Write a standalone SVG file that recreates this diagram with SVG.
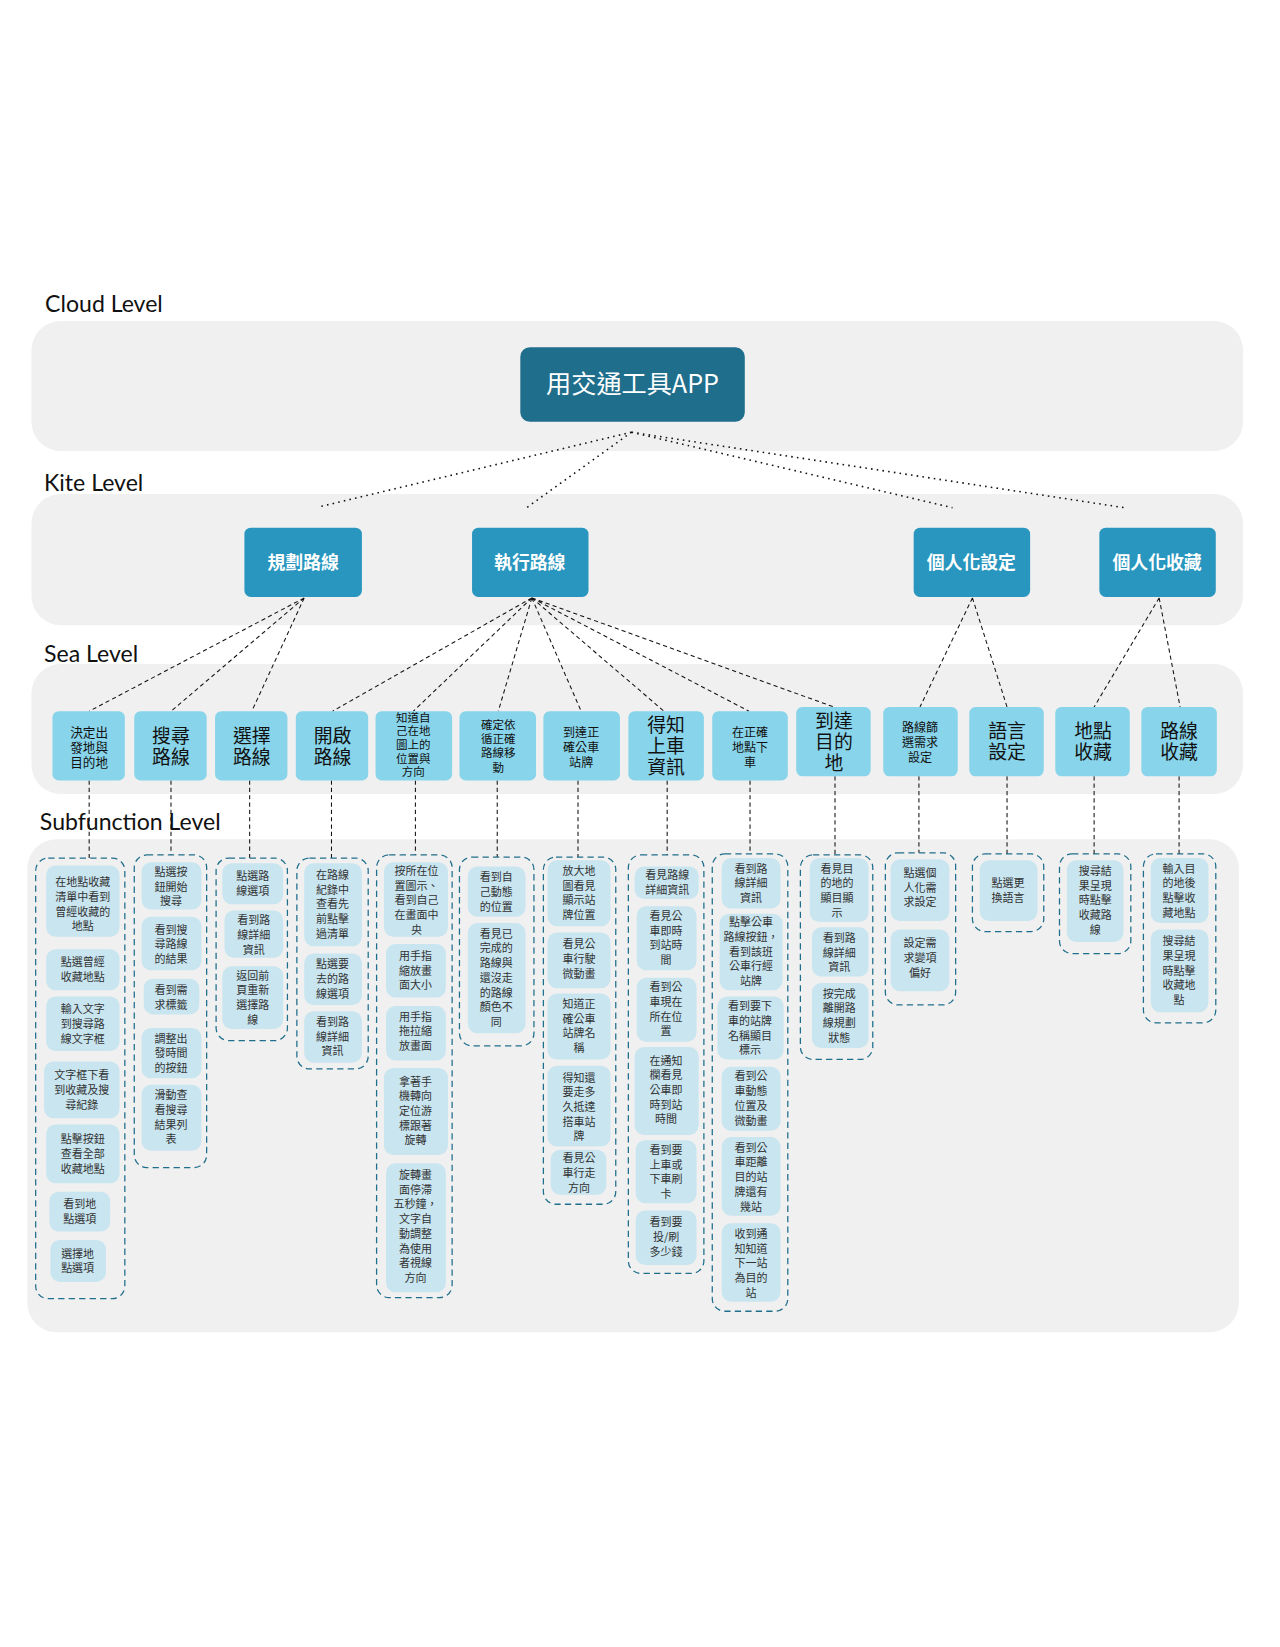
<svg xmlns="http://www.w3.org/2000/svg" width="1280" height="1647" viewBox="0 0 1280 1647">
<style>
.band{fill:#f0f0f0}
.lvl{font-family:Lato,"DejaVu Sans",sans-serif;font-size:22px;fill:#111}
.root{fill:#1f6e8c}
.kite{fill:#2896be}
.sea{fill:#88d4ea}
.grp{fill:none;stroke:#1f6e8c;stroke-width:1.2;stroke-dasharray:6 4}
.sub{fill:#c8e5f0}
.tw{font-family:"Noto Sans CJK TC","Liberation Sans",sans-serif;fill:#fff;text-anchor:middle;font-weight:bold}
.ts{font-family:"Noto Sans CJK TC","Liberation Sans",sans-serif;fill:#111;text-anchor:middle}
.t{font-family:"Noto Sans CJK TC","Liberation Sans",sans-serif;fill:#333;text-anchor:middle;font-size:10.5px}
.dot{stroke:#111;stroke-width:1.5;stroke-dasharray:1.5 4;fill:none}
.dash{stroke:#111;stroke-width:1;stroke-dasharray:4 3;fill:none}
</style>
<rect width="1280" height="1647" fill="#fff"/>
<g transform="scale(1.049)">
<text class="lvl" x="43" y="297">Cloud Level</text>
<rect class="band" x="30" y="306" width="1155" height="124" rx="28"/>
<text class="lvl" x="42" y="468">Kite Level</text>
<rect class="band" x="30" y="471" width="1155" height="125" rx="28"/>
<text class="lvl" x="42" y="631">Sea Level</text>
<rect class="band" x="30" y="633" width="1155" height="124" rx="28"/>
<rect class="band" x="26" y="800" width="1155" height="470" rx="28"/>
<text class="lvl" x="38" y="791">Subfunction Level</text>

<g id="connectors">
<path class="dot" d="M602 412L305 483M602 412L502 484M602 412L908 484M602 412L1072 484"/>
<path class="dash" d="M290 570L85 678M290 570L163 678M290 570L240 678M507 570L317 678M507 570L394 678M507 570L475 678M507 570L554 678M507 570L633 678M507 570L714 678M507 570L795 674M927 570L877 674M927 570L960 674M1105 570L1043 674M1105 570L1125 674"/>
<path class="dash" d="M85 744V818M163 744V815M238 744V818M316 744V818M396 744V815M474 744V817M551 744V817M636 744V815M715 744V814M796 740V815M876 740V813M960 740V814M1043 740V814M1124 740V814"/>
</g>

<g id="root"><rect class="root" x="496" y="331" width="214" height="71" rx="9"/><text class="tw" x="603" y="375" font-size="24" style="font-weight:normal">用交通工具APP</text></g>
<g id="k1"><rect class="kite" x="233" y="503" width="112" height="66" rx="6"/><text class="tw" x="289" y="542" font-size="17">規劃路線</text></g>
<g id="k2"><rect class="kite" x="450" y="503" width="111" height="66" rx="6"/><text class="tw" x="505" y="542" font-size="17">執行路線</text></g>
<g id="k3"><rect class="kite" x="871" y="503" width="111" height="66" rx="6"/><text class="tw" x="926" y="542" font-size="17">個人化設定</text></g>
<g id="k4"><rect class="kite" x="1048" y="503" width="111" height="66" rx="6"/><text class="tw" x="1103" y="542" font-size="17">個人化收藏</text></g>

<g id="s1"><rect class="sea" x="50" y="678" width="69" height="66" rx="6"/><text class="ts" x="85" y="703" font-size="12"><tspan x="85">決定出</tspan><tspan x="85" dy="14">發地與</tspan><tspan x="85" dy="14">目的地</tspan></text></g>
<g id="s2"><rect class="sea" x="128" y="678" width="69" height="66" rx="6"/><text class="ts" x="163" y="708" font-size="18"><tspan x="163">搜尋</tspan><tspan x="163" dy="20">路線</tspan></text></g>
<g id="s3"><rect class="sea" x="205" y="678" width="69" height="66" rx="6"/><text class="ts" x="240" y="708" font-size="18"><tspan x="240">選擇</tspan><tspan x="240" dy="20">路線</tspan></text></g>
<g id="s4"><rect class="sea" x="282" y="678" width="69" height="66" rx="6"/><text class="ts" x="317" y="708" font-size="18"><tspan x="317">開啟</tspan><tspan x="317" dy="20">路線</tspan></text></g>
<g id="s5"><rect class="sea" x="358" y="678" width="73" height="66" rx="6"/><text class="ts" x="394" y="688" font-size="11"><tspan x="394">知道自</tspan><tspan x="394" dy="13">己在地</tspan><tspan x="394" dy="13">圖上的</tspan><tspan x="394" dy="13">位置與</tspan><tspan x="394" dy="13">方向</tspan></text></g>
<g id="s6"><rect class="sea" x="438" y="678" width="73" height="66" rx="6"/><text class="ts" x="475" y="695" font-size="11"><tspan x="475">確定依</tspan><tspan x="475" dy="13.5">循正確</tspan><tspan x="475" dy="13.5">路線移</tspan><tspan x="475" dy="13.5">動</tspan></text></g>
<g id="s7"><rect class="sea" x="518" y="678" width="73" height="66" rx="6"/><text class="ts" x="554" y="703" font-size="11.5"><tspan x="554">到達正</tspan><tspan x="554" dy="14">確公車</tspan><tspan x="554" dy="14">站牌</tspan></text></g>
<g id="s8"><rect class="sea" x="599" y="678" width="72" height="66" rx="6"/><text class="ts" x="635" y="698" font-size="18"><tspan x="635">得知</tspan><tspan x="635" dy="20">上車</tspan><tspan x="635" dy="20">資訊</tspan></text></g>
<g id="s9"><rect class="sea" x="679" y="678" width="72" height="66" rx="6"/><text class="ts" x="715" y="703" font-size="11.5"><tspan x="715">在正確</tspan><tspan x="715" dy="14">地點下</tspan><tspan x="715" dy="14">車</tspan></text></g>
<g id="s10"><rect class="sea" x="759" y="674" width="71" height="66" rx="6"/><text class="ts" x="795" y="694" font-size="18"><tspan x="795">到達</tspan><tspan x="795" dy="20">目的</tspan><tspan x="795" dy="20">地</tspan></text></g>
<g id="s11"><rect class="sea" x="842" y="674" width="71" height="66" rx="6"/><text class="ts" x="877" y="698" font-size="11.5"><tspan x="877">路線篩</tspan><tspan x="877" dy="14">選需求</tspan><tspan x="877" dy="14">設定</tspan></text></g>
<g id="s12"><rect class="sea" x="924" y="674" width="71" height="66" rx="6"/><text class="ts" x="960" y="704" font-size="18"><tspan x="960">語言</tspan><tspan x="960" dy="20">設定</tspan></text></g>
<g id="s13"><rect class="sea" x="1006" y="674" width="71" height="66" rx="6"/><text class="ts" x="1042" y="704" font-size="18"><tspan x="1042">地點</tspan><tspan x="1042" dy="20">收藏</tspan></text></g>
<g id="s14"><rect class="sea" x="1088" y="674" width="72" height="66" rx="6"/><text class="ts" x="1124" y="704" font-size="18"><tspan x="1124">路線</tspan><tspan x="1124" dy="20">收藏</tspan></text></g>

<g id="g1"><rect class="grp" x="34" y="818" width="85" height="420" rx="12"/>
<rect class="sub" x="44" y="825" width="70" height="68" rx="9"/><text class="t" y="845"><tspan x="79">在地點收藏</tspan><tspan x="79" dy="14">清單中看到</tspan><tspan x="79" dy="14">曾經收藏的</tspan><tspan x="79" dy="14">地點</tspan></text>
<rect class="sub" x="44" y="905" width="70" height="39" rx="9"/><text class="t" y="921"><tspan x="79">點選曾經</tspan><tspan x="79" dy="14">收藏地點</tspan></text>
<rect class="sub" x="44" y="950" width="70" height="52" rx="9"/><text class="t" y="966"><tspan x="79">輸入文字</tspan><tspan x="79" dy="14">到搜尋路</tspan><tspan x="79" dy="14">線文字框</tspan></text>
<rect class="sub" x="42" y="1012" width="72" height="54" rx="9"/><text class="t" y="1029"><tspan x="78">文字框下看</tspan><tspan x="78" dy="14">到收藏及搜</tspan><tspan x="78" dy="14">尋紀錄</tspan></text>
<rect class="sub" x="44" y="1072" width="70" height="56" rx="9"/><text class="t" y="1090"><tspan x="79">點擊按鈕</tspan><tspan x="79" dy="14">查看全部</tspan><tspan x="79" dy="14">收藏地點</tspan></text>
<rect class="sub" x="47" y="1136" width="58" height="38" rx="9"/><text class="t" y="1152"><tspan x="76">看到地</tspan><tspan x="76" dy="14">點選項</tspan></text>
<rect class="sub" x="48" y="1182" width="53" height="40" rx="9"/><text class="t" y="1199"><tspan x="74">選擇地</tspan><tspan x="74" dy="14">點選項</tspan></text></g>

<g id="g2"><rect class="grp" x="128" y="815" width="69" height="298" rx="12"/>
<rect class="sub" x="135" y="822" width="57" height="45" rx="9"/><text class="t" y="835"><tspan x="163">點選按</tspan><tspan x="163" dy="14">鈕開始</tspan><tspan x="163" dy="14">搜尋</tspan></text>
<rect class="sub" x="135" y="874" width="57" height="51" rx="9"/><text class="t" y="890"><tspan x="163">看到搜</tspan><tspan x="163" dy="14">尋路線</tspan><tspan x="163" dy="14">的結果</tspan></text>
<rect class="sub" x="137" y="933" width="53" height="34" rx="9"/><text class="t" y="948"><tspan x="163">看到需</tspan><tspan x="163" dy="14">求標籤</tspan></text>
<rect class="sub" x="135" y="980" width="57" height="48" rx="9"/><text class="t" y="994"><tspan x="163">調整出</tspan><tspan x="163" dy="14">發時間</tspan><tspan x="163" dy="14">的按鈕</tspan></text>
<rect class="sub" x="135" y="1034" width="57" height="63" rx="9"/><text class="t" y="1048"><tspan x="163">滑動查</tspan><tspan x="163" dy="14">看搜尋</tspan><tspan x="163" dy="14">結果列</tspan><tspan x="163" dy="14">表</tspan></text></g>

<g id="g3"><rect class="grp" x="206" y="818" width="68" height="174" rx="12"/>
<rect class="sub" x="212" y="823" width="58" height="39" rx="9"/><text class="t" y="839"><tspan x="241">點選路</tspan><tspan x="241" dy="14">線選項</tspan></text>
<rect class="sub" x="214" y="868" width="56" height="45" rx="9"/><text class="t" y="881"><tspan x="242">看到路</tspan><tspan x="242" dy="14">線詳細</tspan><tspan x="242" dy="14">資訊</tspan></text>
<rect class="sub" x="212" y="921" width="58" height="60" rx="9"/><text class="t" y="934"><tspan x="241">返回前</tspan><tspan x="241" dy="14">頁重新</tspan><tspan x="241" dy="14">選擇路</tspan><tspan x="241" dy="14">線</tspan></text></g>

<g id="g4"><rect class="grp" x="283" y="818" width="68" height="201" rx="12"/>
<rect class="sub" x="290" y="823" width="55" height="79" rx="9"/><text class="t" y="838"><tspan x="317">在路線</tspan><tspan x="317" dy="14">紀錄中</tspan><tspan x="317" dy="14">查看先</tspan><tspan x="317" dy="14">前點擊</tspan><tspan x="317" dy="14">過清單</tspan></text>
<rect class="sub" x="290" y="909" width="55" height="49" rx="9"/><text class="t" y="923"><tspan x="317">點選要</tspan><tspan x="317" dy="14">去的路</tspan><tspan x="317" dy="14">線選項</tspan></text>
<rect class="sub" x="290" y="964" width="55" height="49" rx="9"/><text class="t" y="978"><tspan x="317">看到路</tspan><tspan x="317" dy="14">線詳細</tspan><tspan x="317" dy="14">資訊</tspan></text></g>

<g id="g5"><rect class="grp" x="359" y="815" width="72" height="422" rx="12"/>
<rect class="sub" x="366" y="822" width="61" height="71" rx="9"/><text class="t" y="834"><tspan x="397">按所在位</tspan><tspan x="397" dy="14">置圖示、</tspan><tspan x="397" dy="14">看到自己</tspan><tspan x="397" dy="14">在畫面中</tspan><tspan x="397" dy="14">央</tspan></text>
<rect class="sub" x="368" y="900" width="57" height="51" rx="9"/><text class="t" y="915"><tspan x="396">用手指</tspan><tspan x="396" dy="14">縮放畫</tspan><tspan x="396" dy="14">面大小</tspan></text>
<rect class="sub" x="368" y="959" width="57" height="52" rx="9"/><text class="t" y="973"><tspan x="396">用手指</tspan><tspan x="396" dy="14">拖拉縮</tspan><tspan x="396" dy="14">放畫面</tspan></text>
<rect class="sub" x="366" y="1018" width="61" height="83" rx="9"/><text class="t" y="1035"><tspan x="396">拿著手</tspan><tspan x="396" dy="14">機轉向</tspan><tspan x="396" dy="14">定位游</tspan><tspan x="396" dy="14">標跟著</tspan><tspan x="396" dy="14">旋轉</tspan></text>
<rect class="sub" x="368" y="1109" width="57" height="123" rx="9"/><text class="t" y="1124"><tspan x="396">旋轉畫</tspan><tspan x="396" dy="14">面停滯</tspan><tspan x="396" dy="14">五秒鐘，</tspan><tspan x="396" dy="14">文字自</tspan><tspan x="396" dy="14">動調整</tspan><tspan x="396" dy="14">為使用</tspan><tspan x="396" dy="14">者視線</tspan><tspan x="396" dy="14">方向</tspan></text></g>

<g id="g6"><rect class="grp" x="438" y="817" width="71" height="180" rx="12"/>
<rect class="sub" x="446" y="826" width="55" height="48" rx="9"/><text class="t" y="840"><tspan x="473">看到自</tspan><tspan x="473" dy="14">己動態</tspan><tspan x="473" dy="14">的位置</tspan></text>
<rect class="sub" x="446" y="880" width="55" height="105" rx="9"/><text class="t" y="894"><tspan x="473">看見已</tspan><tspan x="473" dy="14">完成的</tspan><tspan x="473" dy="14">路線與</tspan><tspan x="473" dy="14">還沒走</tspan><tspan x="473" dy="14">的路線</tspan><tspan x="473" dy="14">顏色不</tspan><tspan x="473" dy="14">同</tspan></text></g>

<g id="g7"><rect class="grp" x="518" y="817" width="69" height="331" rx="12"/>
<rect class="sub" x="522" y="820" width="60" height="63" rx="9"/><text class="t" y="834"><tspan x="552">放大地</tspan><tspan x="552" dy="14">圖看見</tspan><tspan x="552" dy="14">顯示站</tspan><tspan x="552" dy="14">牌位置</tspan></text>
<rect class="sub" x="522" y="889" width="60" height="53" rx="9"/><text class="t" y="904"><tspan x="552">看見公</tspan><tspan x="552" dy="14">車行駛</tspan><tspan x="552" dy="14">微動畫</tspan></text>
<rect class="sub" x="522" y="947" width="60" height="63" rx="9"/><text class="t" y="961"><tspan x="552">知道正</tspan><tspan x="552" dy="14">確公車</tspan><tspan x="552" dy="14">站牌名</tspan><tspan x="552" dy="14">稱</tspan></text>
<rect class="sub" x="522" y="1016" width="60" height="77" rx="9"/><text class="t" y="1031"><tspan x="552">得知還</tspan><tspan x="552" dy="14">要走多</tspan><tspan x="552" dy="14">久抵達</tspan><tspan x="552" dy="14">搭車站</tspan><tspan x="552" dy="14">牌</tspan></text>
<rect class="sub" x="525" y="1096" width="53" height="43" rx="9"/><text class="t" y="1108"><tspan x="552">看見公</tspan><tspan x="552" dy="14">車行走</tspan><tspan x="552" dy="14">方向</tspan></text></g>

<g id="g8"><rect class="grp" x="599" y="815" width="72" height="399" rx="12"/>
<rect class="sub" x="605" y="826" width="61" height="31" rx="9"/><text class="t" y="838"><tspan x="636">看見路線</tspan><tspan x="636" dy="14">詳細資訊</tspan></text>
<rect class="sub" x="607" y="864" width="57" height="61" rx="9"/><text class="t" y="877"><tspan x="635">看見公</tspan><tspan x="635" dy="14">車即時</tspan><tspan x="635" dy="14">到站時</tspan><tspan x="635" dy="14">間</tspan></text>
<rect class="sub" x="607" y="932" width="57" height="61" rx="9"/><text class="t" y="945"><tspan x="635">看到公</tspan><tspan x="635" dy="14">車現在</tspan><tspan x="635" dy="14">所在位</tspan><tspan x="635" dy="14">置</tspan></text>
<rect class="sub" x="605" y="998" width="61" height="84" rx="9"/><text class="t" y="1015"><tspan x="635">在通知</tspan><tspan x="635" dy="14">欄看見</tspan><tspan x="635" dy="14">公車即</tspan><tspan x="635" dy="14">時到站</tspan><tspan x="635" dy="14">時間</tspan></text>
<rect class="sub" x="606" y="1087" width="58" height="60" rx="9"/><text class="t" y="1100"><tspan x="635">看到要</tspan><tspan x="635" dy="14">上車或</tspan><tspan x="635" dy="14">下車刷</tspan><tspan x="635" dy="14">卡</tspan></text>
<rect class="sub" x="606" y="1154" width="58" height="52" rx="9"/><text class="t" y="1169"><tspan x="635">看到要</tspan><tspan x="635" dy="14">投/刷</tspan><tspan x="635" dy="14">多少錢</tspan></text></g>

<g id="g9"><rect class="grp" x="679" y="814" width="72" height="436" rx="12"/>
<rect class="sub" x="688" y="818" width="56" height="48" rx="9"/><text class="t" y="832"><tspan x="716">看到路</tspan><tspan x="716" dy="14">線詳細</tspan><tspan x="716" dy="14">資訊</tspan></text>
<rect class="sub" x="686" y="871" width="60" height="73" rx="9"/><text class="t" y="883"><tspan x="716">點擊公車</tspan><tspan x="716" dy="14">路線按鈕，</tspan><tspan x="716" dy="14">看到該班</tspan><tspan x="716" dy="14">公車行經</tspan><tspan x="716" dy="14">站牌</tspan></text>
<rect class="sub" x="684" y="950" width="63" height="60" rx="9"/><text class="t" y="963"><tspan x="715">看到要下</tspan><tspan x="715" dy="14">車的站牌</tspan><tspan x="715" dy="14">名稱顯目</tspan><tspan x="715" dy="14">標示</tspan></text>
<rect class="sub" x="688" y="1017" width="56" height="61" rx="9"/><text class="t" y="1030"><tspan x="716">看到公</tspan><tspan x="716" dy="14">車動態</tspan><tspan x="716" dy="14">位置及</tspan><tspan x="716" dy="14">微動畫</tspan></text>
<rect class="sub" x="688" y="1084" width="56" height="75" rx="9"/><text class="t" y="1098"><tspan x="716">看到公</tspan><tspan x="716" dy="14">車距離</tspan><tspan x="716" dy="14">目的站</tspan><tspan x="716" dy="14">牌還有</tspan><tspan x="716" dy="14">幾站</tspan></text>
<rect class="sub" x="688" y="1166" width="56" height="75" rx="9"/><text class="t" y="1180"><tspan x="716">收到通</tspan><tspan x="716" dy="14">知知道</tspan><tspan x="716" dy="14">下一站</tspan><tspan x="716" dy="14">為目的</tspan><tspan x="716" dy="14">站</tspan></text></g>

<g id="g10"><rect class="grp" x="763" y="815" width="69" height="195" rx="12"/>
<rect class="sub" x="772" y="818" width="56" height="61" rx="9"/><text class="t" y="832"><tspan x="798">看見目</tspan><tspan x="798" dy="14">的地的</tspan><tspan x="798" dy="14">顯目顯</tspan><tspan x="798" dy="14">示</tspan></text>
<rect class="sub" x="774" y="884" width="54" height="47" rx="9"/><text class="t" y="898"><tspan x="800">看到路</tspan><tspan x="800" dy="14">線詳細</tspan><tspan x="800" dy="14">資訊</tspan></text>
<rect class="sub" x="774" y="937" width="54" height="62" rx="9"/><text class="t" y="951"><tspan x="800">按完成</tspan><tspan x="800" dy="14">離開路</tspan><tspan x="800" dy="14">線規劃</tspan><tspan x="800" dy="14">狀態</tspan></text></g>

<g id="g11"><rect class="grp" x="844" y="813" width="67" height="145" rx="12"/>
<rect class="sub" x="849" y="819" width="56" height="59" rx="9"/><text class="t" y="836"><tspan x="877">點選個</tspan><tspan x="877" dy="14">人化需</tspan><tspan x="877" dy="14">求設定</tspan></text>
<rect class="sub" x="849" y="886" width="56" height="59" rx="9"/><text class="t" y="903"><tspan x="877">設定需</tspan><tspan x="877" dy="14">求變項</tspan><tspan x="877" dy="14">偏好</tspan></text></g>

<g id="g12"><rect class="grp" x="927" y="814" width="68" height="74" rx="12"/>
<rect class="sub" x="934" y="820" width="55" height="58" rx="9"/><text class="t" y="846"><tspan x="961">點選更</tspan><tspan x="961" dy="14">換語言</tspan></text></g>

<g id="g13"><rect class="grp" x="1010" y="814" width="68" height="95" rx="12"/>
<rect class="sub" x="1017" y="820" width="54" height="78" rx="9"/><text class="t" y="834"><tspan x="1044">搜尋結</tspan><tspan x="1044" dy="14">果呈現</tspan><tspan x="1044" dy="14">時點擊</tspan><tspan x="1044" dy="14">收藏路</tspan><tspan x="1044" dy="14">線</tspan></text></g>

<g id="g14"><rect class="grp" x="1090" y="814" width="69" height="161" rx="12"/>
<rect class="sub" x="1097" y="818" width="55" height="62" rx="9"/><text class="t" y="832"><tspan x="1124">輸入目</tspan><tspan x="1124" dy="14">的地後</tspan><tspan x="1124" dy="14">點擊收</tspan><tspan x="1124" dy="14">藏地點</tspan></text>
<rect class="sub" x="1097" y="886" width="55" height="79" rx="9"/><text class="t" y="901"><tspan x="1124">搜尋結</tspan><tspan x="1124" dy="14">果呈現</tspan><tspan x="1124" dy="14">時點擊</tspan><tspan x="1124" dy="14">收藏地</tspan><tspan x="1124" dy="14">點</tspan></text></g>
</g>
</svg>
